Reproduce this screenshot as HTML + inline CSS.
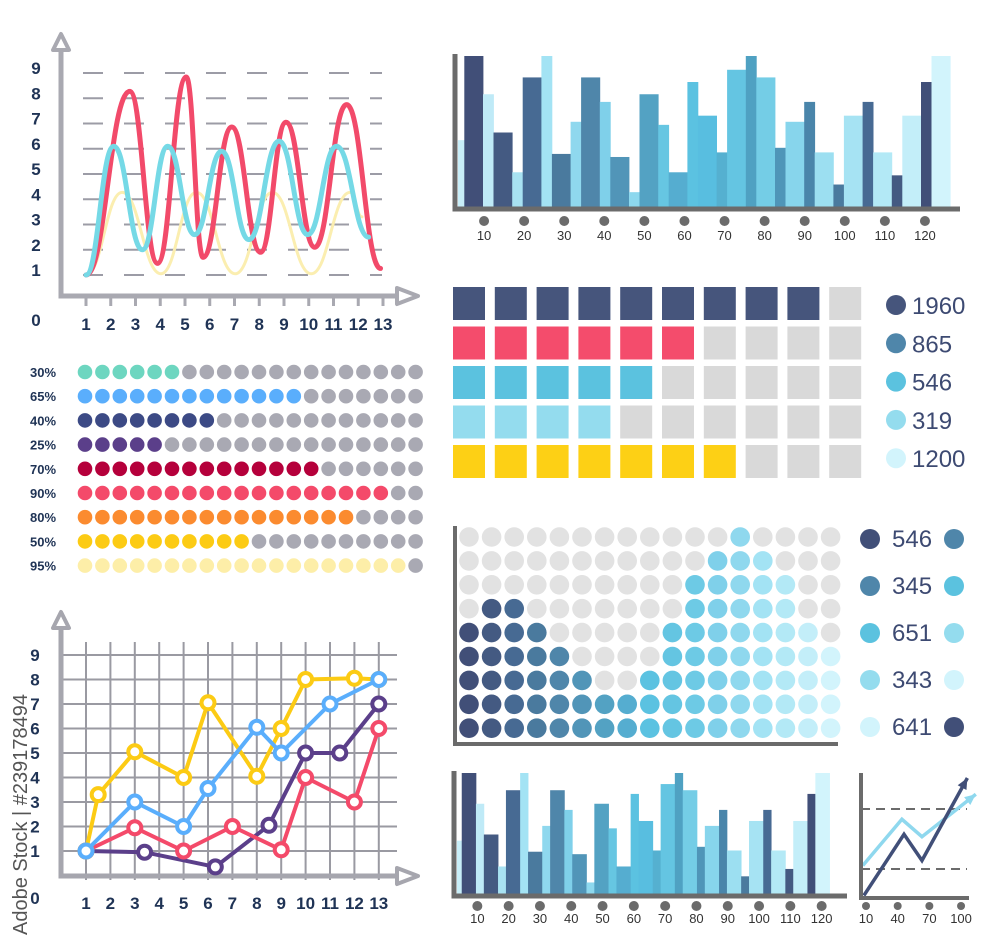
<!DOCTYPE html>
<html><head><meta charset="utf-8"><title>Infographic charts</title>
<style>
html,body{margin:0;padding:0;background:#fff;}
svg{display:block;}
.lbl{font-family:"Liberation Sans Narrow","Liberation Sans",sans-serif;font-weight:bold;fill:#1f3355;font-size:17px;}
.pct{font-family:"Liberation Sans Narrow","Liberation Sans",sans-serif;font-weight:bold;fill:#1f3355;font-size:13px;}
.tick{font-family:"Liberation Sans Narrow","Liberation Sans",sans-serif;fill:#333;font-size:13px;}
.leg{font-family:"Liberation Sans Narrow","Liberation Sans",sans-serif;fill:#3d4a72;font-size:24px;}
</style></head>
<body>
<svg id="chart" width="1000" height="951" viewBox="0 0 1000 951" xmlns="http://www.w3.org/2000/svg">
<text x="27" y="935" transform="rotate(-90 27 935)" font-family="Liberation Sans, sans-serif" font-size="20" fill="#555">Adobe Stock | #239178494</text>
</svg>
<script>
// ---------- Wave chart data ----------
const waveXTicks = [1,2,3,4,5,6,7,8,9,10,11,12,13];
const waveYTicks = [1,2,3,4,5,6,7,8,9];
const redWaveX = [1,2.77,3.89,5.05,5.73,6.89,8.05,9.08,10.24,11.53,12.9];
const redWaveY = [1,8.27,1.46,8.84,1.7,6.86,1.9,7.05,2.1,7.75,1.26];
const cyanWaveX = [1,2.12,3.28,4.3,5.39,6.48,7.58,8.8,9.96,11.12,12.42];
const cyanWaveY = [1,6.1,2,6.1,2.6,5.9,2.4,6.3,2.6,6.1,2.5];
const yellowWaveX = [1,2.46,4.03,5.46,7.03,8.53,10.1,11.67,12.15];
const yellowWaveY = [1,4.27,1.05,4.27,1.05,4.27,1.05,4.27,3.3];
// ---------- Bar chart data ----------
const barValues = [45,100,75,50,24,86,100,36,57,86,70,34,11,75,55,24,83,61,37,91,100,86,40,57,70,37,16,61,70,37,22,61,83,100];
const barColors = ["#c8eef8","#414f78","#bfeaf7","#445a82","#a8e2f2","#476a93","#a3e3f4","#4a7a9e","#8fd8ee","#4f86aa","#7fd0ea","#5195b8","#8dd8ee","#53a2c3","#66c6e2","#55add0","#5bc2e1","#58bee0","#55b0d0","#64c5e2","#4fa1c2","#74cde6","#4f95b8","#87d5ec","#4a85aa","#9cdff1","#4a7a9e","#a6e3f3","#476a93","#b3e9f6","#445a82","#c3eef9","#414f78","#d2f4fc"];
const barTickLabels = ["10","20","30","40","50","60","70","80","90","100","110","120"];
// ---------- Dot rows ----------
const dotRowLabels = ["30%","65%","40%","25%","70%","90%","80%","50%","95%"];
const dotRowCounts = [6,13,8,5,14,18,16,10,19];
const dotRowColors = ["#6dd6c0","#5aaefc","#3c4a85","#5b3f8a","#b5003b","#f44a6a","#fb8b2f","#fccb14","#fdeea8"];
// ---------- Square waffle ----------
const waffleCounts = [9,6,5,4,7];
const waffleColors = ["#46557c","#f44c6c","#5bc2df","#94dcee","#fdd015"];
const waffleLegend = ["1960","865","546","319","1200"];
const waffleLegendColors = ["#46557c","#4f86aa","#5bc2df","#94dcee","#d2f4fc"];
// ---------- Circle grid ----------
const gridColHeights = [5,6,6,5,4,3,2,2,3,5,7,8,9,8,7,5,4];
const gridColColors = ["#414f78","#445a82","#476a93","#4a7a9e","#4f86aa","#5195b8","#53a2c3","#55add0","#5bc2e1","#64c5e2","#6dcae5","#7fd0ea","#8fd8ee","#a3e3f4","#b3e9f6","#c3eef9","#d2f4fc"];
const gridLegend = ["546","345","651","343","641"];
const gridLegendLeft = ["#414f78","#4f86aa","#5bc2df","#94dcee","#d2f4fc"];
const gridLegendRight = ["#4f86aa","#5bc2df","#94dcee","#d2f4fc","#414f78"];
// ---------- Small trend chart ----------
const trendTicks = [10,40,70,100];
const trendDarkX = [8,46,63,106];
const trendDarkY = [0.2,5.1,3,9.6];
const trendLightX = [7,44,63,114];
const trendLightY = [2.6,6.3,4.9,8.3];
// ---------- Line chart ----------
const lineXTicks = [1,2,3,4,5,6,7,8,9,10,11,12,13];
const lineYTicks = [1,2,3,4,5,6,7,8,9];
const yellowX = [1,1.5,3,5,6,8,9,10,12,13];
const yellowY = [1,3.3,5.05,4,7.05,4.05,6,8,8.05,8];
const blueX = [1,3,5,6,8,9,11,13];
const blueY = [1,3,2,3.55,6.05,5,7,8];
const redX = [1,3,5,7,9,10,12,13];
const redY = [1,1.95,1,2,1.05,4,3,6];
const purpleX = [1,3.4,6.3,8.5,10,11.4,13];
const purpleY = [1,0.95,0.35,2.05,5,5,7];

const NS = "http://www.w3.org/2000/svg";
const svg = document.getElementById('chart');
function mk(tag, attrs, parent){ const e=document.createElementNS(NS,tag); for(const k in attrs) e.setAttribute(k,attrs[k]); (parent||svg).appendChild(e); return e; }
function group(name){ const g=mk('g',{});   return g; }

// ================= Wave chart =================
(function(){
  const g = group('wave-chart');
  const wx = v => 86 + (v-1)*24.75;
  const wy = v => 275 - (v-1)*25.25;
  waveYTicks.forEach(v=>{
    const l = mk('line',{x1:83,x2:382,y1:wy(v),y2:wy(v),stroke:'#9c9ca6','stroke-width':2,'stroke-dasharray':'20 21'},g);
    
    
    const t = mk('text',{x:36,y:wy(v)+1,'text-anchor':'middle',class:'lbl'},g);
    t.textContent = v;
    
    
  });
  waveXTicks.forEach(v=>{
    const l = mk('line',{x1:wx(v),x2:wx(v),y1:296,y2:306,stroke:'#a9a9b1','stroke-width':3},g);
    
    
    const t = mk('text',{x:wx(v),y:330,'text-anchor':'middle',class:'lbl'},g);
    t.textContent = v;
    
    
  });
  const z = mk('text',{x:36,y:326,'text-anchor':'middle',class:'lbl'},g); z.textContent='0';
  
  
  function wave(xs,ys,color,w,name){
    let d = `M${wx(xs[0])},${wy(ys[0])}`;
    for(let i=1;i<xs.length;i++){
      const x0=wx(xs[i-1]),y0=wy(ys[i-1]),x1=wx(xs[i]),y1=wy(ys[i]),dx=x1-x0;
      d += ` C${x0+dx*0.45},${y0} ${x1-dx*0.45},${y1} ${x1},${y1}`;
    }
    const p = mk('path',{d:d,fill:'none',stroke:color,'stroke-width':w,'stroke-linecap':'round'},g);
    
    
  }
  wave(yellowWaveX,yellowWaveY,'#fbeeb0',3,'yellow-wave');
  wave(redWaveX,redWaveY,'#f24a6a',5,'red-wave');
  wave(cyanWaveX,cyanWaveY,'#75d9e6',5,'cyan-wave');
  const ax = mk('path',{d:'M61,40 V296 H415',fill:'none',stroke:'#a9a9b1','stroke-width':5},g);
  
  
  const a1 = mk('path',{d:'M53,50 L61,34 L69,50 Z M397,288 L418,296 L397,304 Z',fill:'#fff',stroke:'#a9a9b1','stroke-width':4,'stroke-linejoin':'round'},g);
  
  
})();

// ================= Bar charts =================
function barChart(name, x0, x1, top, base, axisRight, wide, narrow, dotY, lblY){
  const g = group(name);
  const h = base - top;
  // widths alternate: first narrow partial, then wide/narrow
  let x = x0;
  barValues.forEach((v,i)=>{
    const w = (i%2===1) ? wide : narrow*(i===0?0.6:1);
    const r = mk('rect',{x:x,y:base-h*v/100,width:w+0.4,height:h*v/100,fill:barColors[i]},g);
    
    
    x += w;
  });
  const ax = mk('path',{d:`M${x0-3},${top-2} V${base} H${axisRight}`,fill:'none',stroke:'#6b6b6b','stroke-width':5},g);
  
  
  const step = (x1-x0)/ (barTickLabels.length+0.3);
  barTickLabels.forEach((t,i)=>{
    const cx = x0 + step*(i+0.65);
    const c = mk('circle',{cx:cx,cy:dotY,r:5,fill:'#6b6b6b'},g);
    
    
    const tx = mk('text',{x:cx,y:lblY,'text-anchor':'middle',class:'tick'},g);
    tx.textContent = t;
    
    
  });
}
barChart('top-bar-chart',458,951,56,209,960,18.7,10.5,221,240);
barChart('bottom-bar-chart',457,842,773,896,847,14.2,7.9,906,923);

// ================= Dot rows =================
(function(){
  const g = group('dot-row-chart');
  dotRowLabels.forEach((lab,r)=>{
    const y = 372 + r*24.2;
    const t = mk('text',{x:43,y:y+5,'text-anchor':'middle',class:'pct'},g);
    t.textContent = lab;
    
    
    for(let i=0;i<20;i++){
      const c = mk('circle',{cx:85+i*17.4,cy:y,r:7.3,fill:i<dotRowCounts[r]?dotRowColors[r]:'#a9a9b3'},g);
      
      
    }
  });
})();

// ================= Square waffle =================
(function(){
  const g = group('square-waffle');
  waffleCounts.forEach((n,r)=>{
    const y = 287 + r*39.5;
    for(let i=0;i<10;i++){
      const s = mk('rect',{x:453+i*41.8,y:y,width:32,height:33,fill:i<n?waffleColors[r]:'#d9d9d9'},g);
      
      
    }
    const cy = 305 + r*38.3;
    const c = mk('circle',{cx:896,cy:cy,r:10,fill:waffleLegendColors[r]},g);
    
    
    const t = mk('text',{x:912,y:cy+9,class:'leg'},g);
    t.textContent = waffleLegend[r];
    
    
  });
})();

// ================= Circle grid =================
(function(){
  const g = group('circle-grid');
  gridColHeights.forEach((h,c)=>{
    for(let r=0;r<9;r++){
      const filled = (9-r) <= h;
      const ci = mk('circle',{cx:469+c*22.6,cy:537+r*23.9,r:9.8,fill:filled?gridColColors[c]:'#e2e2e2'},g);
      
      
    }
  });
  const ax = mk('path',{d:'M455,526 V744 H838',fill:'none',stroke:'#6b6b6b','stroke-width':4},g);
  
  
  gridLegend.forEach((v,i)=>{
    const y = 539 + i*47;
    const a = mk('circle',{cx:870,cy:y,r:10,fill:gridLegendLeft[i]},g);
    
    
    const b = mk('circle',{cx:954,cy:y,r:10,fill:gridLegendRight[i]},g);
    
    
    const t = mk('text',{x:892,y:y+8,class:'leg','font-size':'22'},g);
    t.textContent = v;
    
    
  });
})();

// ================= Small trend chart =================
(function(){
  const g = group('trend-chart');
  const tx = v => 866 + (v-10)*1.056;
  const ty = v => 898 - v*12.5;
  [809,869].forEach(y=>{
    const l = mk('line',{x1:861,x2:967,y1:y,y2:y,stroke:'#6b6b6b','stroke-width':2,'stroke-dasharray':'9 6'},g);
    
    
  });
  function tl(xs,ys,color,name){
    const pts = xs.map((x,i)=>`${tx(x)},${ty(ys[i])}`).join(' ');
    const p = mk('polyline',{points:pts,fill:'none',stroke:color,'stroke-width':3.5},g);
    
    
    const n = xs.length-1;
    const x1=tx(xs[n]),y1=ty(ys[n]),x0=tx(xs[n-1]),y0=ty(ys[n-1]);
    const ang = Math.atan2(y1-y0,x1-x0);
    const L=11,W=5;
    const bx=x1-L*Math.cos(ang), by=y1-L*Math.sin(ang);
    const hp = mk('polygon',{points:`${x1},${y1} ${bx+W*Math.sin(ang)},${by-W*Math.cos(ang)} ${bx-W*Math.sin(ang)},${by+W*Math.cos(ang)}`,fill:color},g);
    
    
  }
  tl(trendLightX,trendLightY,'#8fd8ee','trend-light-line');
  tl(trendDarkX,trendDarkY,'#414f78','trend-dark-line');
  const ax = mk('path',{d:'M861,773 V898 H969',fill:'none',stroke:'#6b6b6b','stroke-width':4},g);
  
  
  trendTicks.forEach(v=>{
    const c = mk('circle',{cx:tx(v),cy:906,r:4,fill:'#6b6b6b'},g);
    
    
    const t = mk('text',{x:tx(v),y:923,'text-anchor':'middle',class:'tick','font-size':'11'},g);
    t.textContent = v;
    
    
  });
})();

// ================= Line chart =================
(function(){
  const g = group('line-chart');
  const lx = v => 86 + (v-1)*24.4;
  const ly = v => 851 - (v-1)*24.5;
  lineXTicks.forEach(v=>{
    const l = mk('line',{x1:lx(v),x2:lx(v),y1:642,y2:880,stroke:'#9a9aa2','stroke-width':2},g);
    
    
    const t = mk('text',{x:lx(v),y:909,'text-anchor':'middle',class:'lbl'},g);
    t.textContent = v;
    
    
  });
  lineYTicks.forEach(v=>{
    const l = mk('line',{x1:61,x2:397,y1:ly(v),y2:ly(v),stroke:'#9a9aa2','stroke-width':2},g);
    
    
    const t = mk('text',{x:35,y:ly(v)+6,'text-anchor':'middle',class:'lbl'},g);
    t.textContent = v;
    
    
  });
  const z = mk('text',{x:35,y:904,'text-anchor':'middle',class:'lbl'},g); z.textContent='0';
  
  
  const ax = mk('path',{d:'M61,618 V876 H410',fill:'none',stroke:'#a6a6ae','stroke-width':5},g);
  
  
  const ar = mk('path',{d:'M53,628 L61,612 L69,628 Z M397,868 L418,876 L397,884 Z',fill:'#fff',stroke:'#a6a6ae','stroke-width':4,'stroke-linejoin':'round'},g);
  
  
  function series(xs,ys,color,name){
    const pts = xs.map((x,i)=>`${lx(x)},${ly(ys[i])}`).join(' ');
    const p = mk('polyline',{points:pts,fill:'none',stroke:color,'stroke-width':4,'stroke-linejoin':'round'},g);
    
    
    xs.forEach((x,i)=>{
      const c = mk('circle',{cx:lx(x),cy:ly(ys[i]),r:6.5,fill:'#fff',stroke:color,'stroke-width':4},g);
      
      
    });
  }
  series(purpleX,purpleY,'#5b3f8a','purple-series');
  series(redX,redY,'#f44a6a','red-series');
  series(yellowX,yellowY,'#fccb14','yellow-series');
  series(blueX,blueY,'#5aaefc','blue-series');
})();
</script>
</body></html>
